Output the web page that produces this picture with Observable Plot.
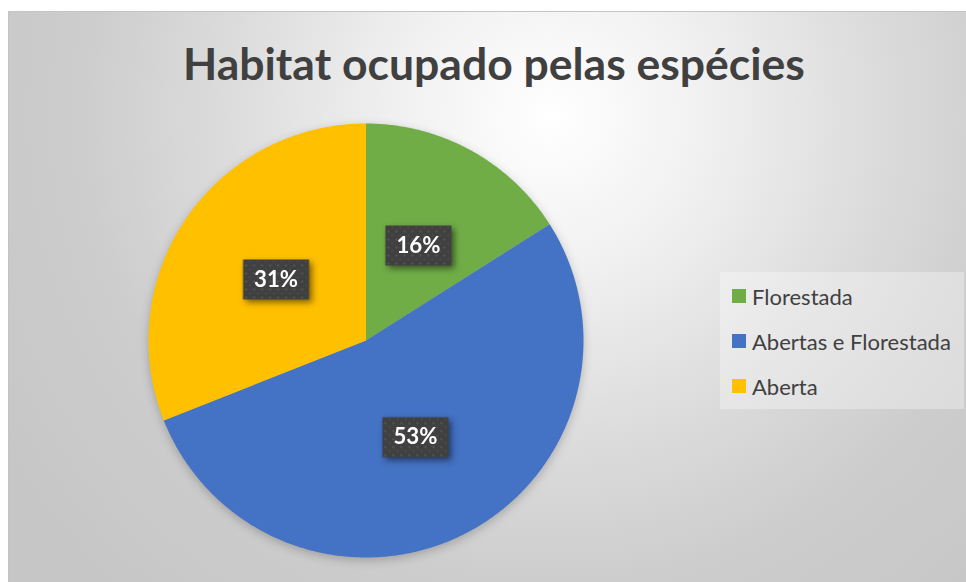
<!DOCTYPE html>
<html><head><meta charset="utf-8">
<script src="https://cdn.jsdelivr.net/npm/d3@7"></script>
<script src="https://cdn.jsdelivr.net/npm/@observablehq/plot@0.6"></script>
<style>
html,body{margin:0;padding:0;background:#fff;}
#wrap{position:relative;width:966px;height:582px;overflow:hidden;}
#bg{position:absolute;left:8px;top:11px;width:970px;height:580px;box-sizing:border-box;border:1px solid #c4c4c4;
 background:radial-gradient(circle at 56% 18%, #ffffff 0%, #f0f0f0 22%, #dcdcdc 45%, #cdcdcd 65%, #c6c6c6 90%);}
#title{position:absolute;white-space:nowrap;font-family:Lato,"Open Sans",sans-serif;font-weight:bold;color:#404040;}
#plot{position:absolute;left:0;top:0;}
#legend{position:absolute;left:720px;top:272px;width:244px;height:137px;background:rgba(255,255,255,0.32);box-sizing:border-box;}
.item{position:absolute;left:12px;display:flex;align-items:center;font-family:Lato,"Open Sans",sans-serif;color:#404040;white-space:nowrap;}
.sw{width:14px;height:14px;margin-right:6px;flex:none;}
</style></head><body>
<div id="wrap"><div id="bg"></div><div id="title"></div><div id="plot"></div><div id="legend"></div></div>
<script>
const titleText = "Habitat ocupado pelas espécies";
const categories = ["Florestada", "Abertas e Florestada", "Aberta"];
const values = [16, 53, 31];
const colors = ["#70AD47", "#4472C4", "#FFC000"];

// text fitting helper
const cv = document.createElement("canvas").getContext("2d");
function fitSize(text, weight, family, target) {
  cv.font = `${weight} 100px ${family}`;
  return 100 * target / cv.measureText(text).width;
}
const FAM = 'Lato';

// title
const tSize = fitSize(titleText, "bold", FAM, 622);
const tEl = document.getElementById("title");
tEl.textContent = titleText;
tEl.style.fontSize = tSize + "px";
tEl.style.lineHeight = tSize + "px";
tEl.style.left = "183px";
tEl.style.top = (80 - 0.887 * tSize) + "px";

// slices
const total = d3.sum(values);
let cum = 0;
const slices = categories.map((c, i) => {
  const s = cum / total; cum += values[i];
  const e = cum / total;
  const m = (s + e) / 2 * 2 * Math.PI;
  return {c, v: values[i], start: s, end: e, lx: 0.5 * Math.sin(m), ly: 0.5 * Math.cos(m)};
});
const pts = slices.flatMap(s => {
  const n = Math.max(2, Math.ceil((s.end - s.start) * 720));
  const arr = [{c: s.c, x: 0, y: 0}];
  for (let k = 0; k <= n; k++) {
    const a = 2 * Math.PI * (s.start + (s.end - s.start) * k / n);
    arr.push({c: s.c, x: Math.sin(a), y: Math.cos(a)});
  }
  arr.push({c: s.c, x: 0, y: 0});
  return arr;
});

const boxSymbol = {draw(ctx) { ctx.rect(-33, -20, 66, 40); }};
const lblSize = fitSize("16%", "bold", FAM, 44);

const svg = Plot.plot({
  width: 966, height: 582,
  marginLeft: 148, marginRight: 966 - 583, marginTop: 123, marginBottom: 582 - 557,
  x: {domain: [-1, 1], axis: null},
  y: {domain: [-1, 1], axis: null},
  color: {domain: categories, range: colors},
  style: {background: "transparent", overflow: "visible"},
  marks: [
    Plot.line(pts, {x: "x", y: "y", z: "c", fill: "c", stroke: "none", curve: "linear"}),
    Plot.dot(slices, {x: "lx", y: "ly", symbol: boxSymbol, r: 5, fill: "url(#lblpat)", stroke: "none"}),
    Plot.text(slices, {x: "lx", y: "ly", text: d => d.v + "%", fill: "white", fontWeight: "bold",
      fontSize: lblSize, fontFamily: FAM})
  ]
});
const s = d3.select(svg);
const defs = s.insert("defs", ":first-child");
const pat = defs.append("pattern").attr("id", "lblpat").attr("patternUnits", "userSpaceOnUse")
  .attr("width", 8).attr("height", 8);
pat.append("rect").attr("width", 8).attr("height", 8).attr("fill", "#404040");
pat.append("rect").attr("x", 1).attr("y", 1).attr("width", 2).attr("height", 2).attr("fill", "#585858");
pat.append("rect").attr("x", 5).attr("y", 5).attr("width", 2).attr("height", 2).attr("fill", "#4c4c4c");
s.select('g[aria-label="line"]').style("filter", "drop-shadow(0px 3px 5px rgba(0,0,0,0.22))");
s.select('g[aria-label="dot"]').style("filter", "drop-shadow(3px 3px 3px rgba(0,0,0,0.5))");
document.getElementById("plot").appendChild(svg);

// legend
const lgSize = fitSize("Abertas e Florestada", "normal", FAM, 199);
const lg = document.getElementById("legend");
const centers = [24, 69, 114];
categories.forEach((c, i) => {
  const it = document.createElement("div");
  it.className = "item";
  it.style.fontSize = lgSize + "px";
  it.style.height = "30px";
  it.style.top = (centers[i] - 15) + "px";
  const sw = document.createElement("span");
  sw.className = "sw"; sw.style.background = colors[i];
  const tx = document.createElement("span");
  tx.textContent = c;
  it.appendChild(sw); it.appendChild(tx);
  lg.appendChild(it);
});
</script>
</body></html>
